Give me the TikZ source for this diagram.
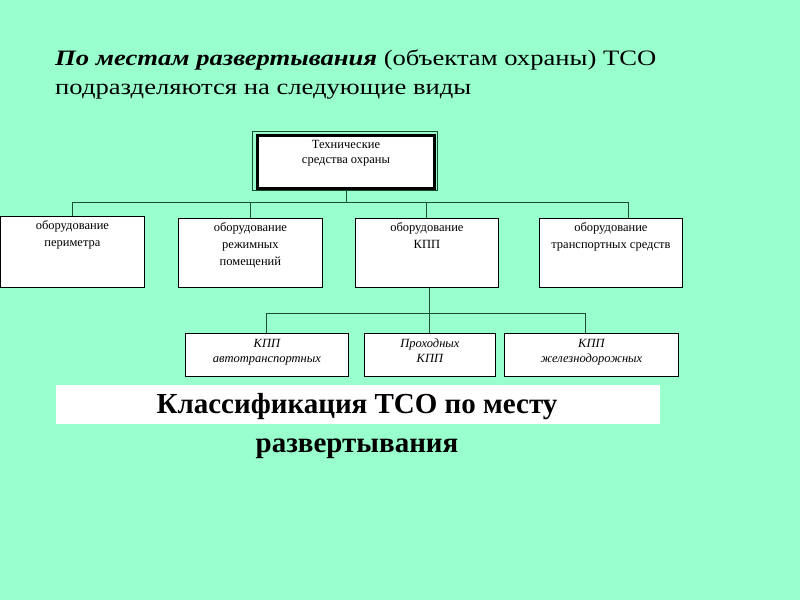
\documentclass[tikz,border=0pt]{standalone}
\usepackage{graphicx}
\usepackage{fontspec}
\setmainfont{Liberation Serif}
\definecolor{bg}{RGB}{153,255,204}
\definecolor{ln}{RGB}{25,80,45}
\newcommand\bxt[4]{\parbox[t][#2][t]{#1}{\centering\vspace*{#3}\strut#4}}
\begin{document}
\begin{tikzpicture}[x=1pt,y=-1pt,
  box/.style={draw=black, line width=0.8pt, fill=white, inner sep=0pt, anchor=north west, font=\fontsize{12.5}{17}\selectfont},
  sbox/.style={box, font=\fontsize{12.5}{15}\selectfont\itshape},
  tbox/.style={box, line width=3pt, font=\fontsize{12.5}{15}\selectfont},
  conn/.style={draw=ln, line width=1pt},
  title/.style={inner sep=0pt, anchor=base west, font=\fontsize{22}{26}\selectfont},
  captext/.style={inner sep=0pt, anchor=base, font=\fontsize{29}{32}\selectfont\bfseries}]
\useasboundingbox (0,0) rectangle (800,600);
\fill[bg] (0,0) rectangle (800,600);
% title
\node[title] (t1) at (55,65) {\scalebox{1.21}[1]{\textbf{\textit{По местам развертывания}} (объектам охраны) ТСО}};
\node[title] (t2) at (55,94) {\scalebox{1.21}[1]{подразделяются на следующие виды}};
% top box
\draw[ln, line width=0.8pt] (252,131) rectangle (437,190);
\node[tbox, minimum width=177pt, minimum height=53pt] (top) at (256,134) {\bxt{175pt}{51pt}{1pt}{Технические\\средства охраны}};
% level 1
\node[box] (b1) at (0,216) {\bxt{144pt}{71pt}{1pt}{оборудование\\периметра}};
\node[box] (b2) at (178,218) {\bxt{144pt}{69pt}{1pt}{оборудование\\режимных\\помещений}};
\node[box] (b3) at (355,218) {\bxt{143pt}{69pt}{1pt}{оборудование\\КПП}};
\node[box] (b4) at (539,218) {\bxt{143pt}{69pt}{1pt}{оборудование\\транспортных средств}};
% level 2
\node[sbox] (c1) at (185,333) {\bxt{163pt}{43pt}{4pt}{КПП\\автотранспортных}};
\node[sbox] (c2) at (364,333) {\bxt{131pt}{43pt}{4pt}{Проходных\\КПП}};
\node[sbox] (c3) at (504,333) {\bxt{174pt}{43pt}{4pt}{КПП\\железнодорожных}};
% connectors
\coordinate (h1) at (0,202);
\coordinate (h2) at (0,313);
\draw[conn] (top.south) -- (top.south |- h1);
\draw[conn] (b1.north |- h1) -- ([xshift=18pt]b4.north |- h1);
\draw[conn] (b1.north |- h1) -- (b1.north);
\draw[conn] (b2.north |- h1) -- (b2.north);
\draw[conn] (b3.north |- h1) -- (b3.north);
\draw[conn] ([xshift=18pt]b4.north |- h1) -- ([xshift=18pt]b4.north);
\draw[conn] ([xshift=3pt]b3.south) -- ([xshift=3pt]b3.south |- h2);
\draw[conn] (c1.north |- h2) -- ([xshift=-6pt]c3.north |- h2);
\draw[conn] (c1.north |- h2) -- (c1.north);
\draw[conn] (c2.north |- h2) -- (c2.north);
\draw[conn] ([xshift=-6pt]c3.north |- h2) -- ([xshift=-6pt]c3.north);
% caption
\fill[white] (56,385) rectangle (660,424);
\node[captext] (k1) at (357,413) {Классификация ТСО по месту};
\node[captext] (k2) at (357,452) {развертывания};
\end{tikzpicture}
\end{document}
